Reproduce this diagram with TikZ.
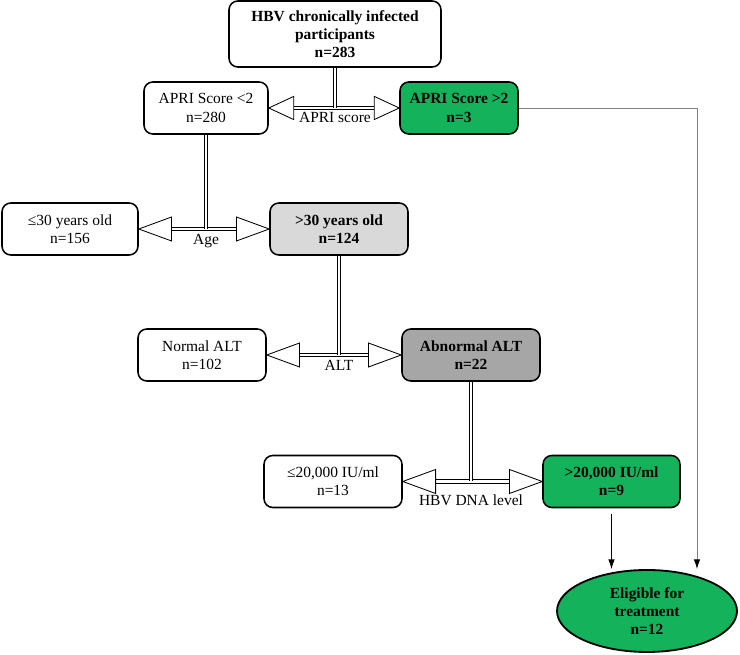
\documentclass[tikz,border=0pt]{standalone}
\usepackage{fontspec}
\setmainfont{Liberation Serif}
\usetikzlibrary{shapes.geometric,arrows.meta,calc}
\definecolor{okgreen}{RGB}{20,178,90}
\definecolor{lightgr}{RGB}{217,217,217}
\definecolor{darkgr}{RGB}{166,166,166}

\begin{document}
\begin{tikzpicture}[font=\fontsize{11}{13}\selectfont,
  box/.style={draw, line width=1.1pt, rounded corners=0.22cm, align=center, minimum height=1.3cm, inner sep=2pt},
  pipe/.style={draw, double, double distance=2pt, line width=0.6pt},
  headtip/.style={draw, fill=white, line width=0.6pt},
  split/.style={anchor=north, inner sep=1pt},
  tarrow/.style={draw, line width=0.5pt, -{Latex[length=2.4mm, width=1.6mm]}},
  gline/.style={draw=gray, line width=0.6pt, -{Latex[length=2.4mm, width=1.6mm, black]}}]
  \useasboundingbox (0,0) rectangle (18.5,16.375);
  \node[box, minimum width=5.3cm, minimum height=1.65cm] (hbv) at (8.375,15.525) {\textbf{HBV chronically infected}\\\textbf{participants}\\\textbf{n=283}};
  \node[box, minimum width=3.1cm] (april) at (5.15,13.675) {APRI Score <2\\n=280};
  \node[box, minimum width=2.95cm, fill=okgreen] (aprih) at (11.475,13.675) {\textbf{APRI Score >2}\\\textbf{n=3}};
  \node[box, minimum width=3.4cm] (le30) at (1.75,10.65) {≤30 years old\\n=156};
  \node[box, minimum width=3.45cm, fill=lightgr] (gt30) at (8.475,10.65) {\textbf{>30 years old}\\\textbf{n=124}};
  \node[box, minimum width=3.2cm] (normalt) at (5.05,7.5) {Normal ALT\\n=102};
  \node[box, minimum width=3.45cm, fill=darkgr] (abnalt) at (11.775,7.5) {\textbf{Abnormal ALT}\\\textbf{n=22}};
  \node[box, minimum width=3.45cm] (le20) at (8.325,4.3375) {≤20,000 IU/ml\\n=13};
  \node[box, minimum width=3.425cm, fill=okgreen] (gt20) at (15.2875,4.3375) {\textbf{>20,000 IU/ml}\\\textbf{n=9}};
  \node[ellipse, draw, line width=1.3pt, fill=okgreen, minimum width=4.5cm, minimum height=2.05cm, align=center, inner sep=0pt] (ell) at (16.175,1.1) {\textbf{Eligible for}\\\textbf{treatment}\\\textbf{n=12}};
  \coordinate (gtip) at ([xshift=1.25cm]ell.north);

  \draw[pipe] ($(april.east)+(0.625,0)$) -- ($(aprih.west)-(0.625,0)$);
  \draw[pipe] (hbv.south) -- (hbv.south |- april.east);
  \draw[headtip] (april.east) -- ++(0.625,0.29) -- ++(0,-0.58) -- cycle;
  \draw[headtip] (aprih.west) -- ++(-0.625,0.29) -- ++(0,-0.58) -- cycle;
  \node[split] (lapri) at ([yshift=-0.06cm]hbv.south |- april.east) {APRI score};

  \draw[pipe] ($(le30.east)+(0.82,0)$) -- ($(gt30.west)-(0.82,0)$);
  \draw[pipe] (april.south) -- (april.south |- le30.east);
  \draw[headtip] (le30.east) -- ++(0.82,0.3) -- ++(0,-0.6) -- cycle;
  \draw[headtip] (gt30.west) -- ++(-0.82,0.3) -- ++(0,-0.6) -- cycle;
  \node[split] (lage) at ([yshift=-0.08cm]april.south |- le30.east) {Age};

  \draw[pipe] ($(normalt.east)+(0.82,0)$) -- ($(abnalt.west)-(0.82,0)$);
  \draw[pipe] (gt30.south) -- (gt30.south |- normalt.east);
  \draw[headtip] (normalt.east) -- ++(0.82,0.3) -- ++(0,-0.6) -- cycle;
  \draw[headtip] (abnalt.west) -- ++(-0.82,0.3) -- ++(0,-0.6) -- cycle;
  \node[split] (lalt) at ([yshift=-0.08cm]gt30.south |- normalt.east) {ALT};

  \draw[pipe] ($(le20.east)+(0.82,0)$) -- ($(gt20.west)-(0.82,0)$);
  \draw[pipe] (abnalt.south) -- (abnalt.south |- le20.east);
  \draw[headtip] (le20.east) -- ++(0.82,0.3) -- ++(0,-0.6) -- cycle;
  \draw[headtip] (gt20.west) -- ++(-0.82,0.3) -- ++(0,-0.6) -- cycle;
  \node[split] (ldna) at ([yshift=-0.3cm]abnalt.south |- le20.east) {HBV DNA level};

  \draw[tarrow, shorten <=0.15cm] (gt20.south) -- (gt20.south |- ell.north);
  \draw[gline] (aprih.east) -| (gtip);
\end{tikzpicture}
\end{document}
